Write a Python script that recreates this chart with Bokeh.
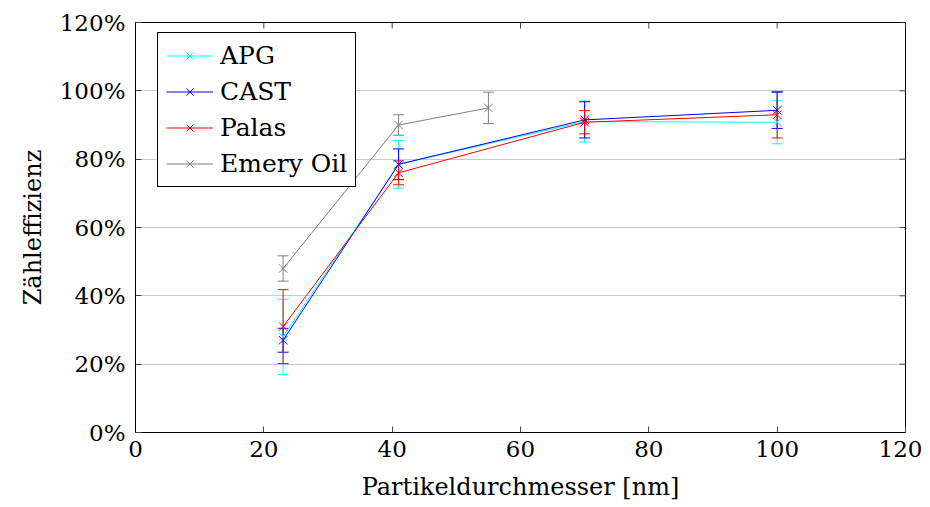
import math
from bokeh.plotting import figure
from bokeh.models import (ColumnDataSource, Whisker, TeeHead, PrintfTickFormatter,
                          FixedTicker, Range1d)
from bokeh.embed import file_html
from bokeh.resources import INLINE

# Data (x in nm, efficiency in %)
x_main = [23, 41, 70, 100]
x_emery = [23, 41, 55]

apg = [28.0, 78.5, 91.0, 90.8]
apg_err = [11.0, 7.0, 6.0, 6.3]

cast = [27.0, 78.5, 91.5, 94.3]
cast_err = [3.5, 4.5, 5.3, 5.3]

palas = [31.0, 76.0, 90.8, 93.0]
palas_err = [10.8, 3.5, 3.4, 6.8]

emery = [48.0, 90.0, 95.0]
emery_err = [3.7, 3.0, 4.6]

x_ticks = [0, 20, 40, 60, 80, 100, 120]
y_ticks = [0, 20, 40, 60, 80, 100, 120]
X_MAX = 120
Y_MAX = 120

series = [
    ("APG", x_main, apg, apg_err, "#00ffff"),
    ("CAST", x_main, cast, cast_err, "#0000ff"),
    ("Palas", x_main, palas, palas_err, "#ff0000"),
    ("Emery Oil", x_emery, emery, emery_err, "#808080"),
]

FONT = "DejaVu Serif"

p = figure(width=922, height=507, output_backend="svg", toolbar_location=None,
           x_range=Range1d(0, X_MAX), y_range=Range1d(0, Y_MAX),
           min_border_left=135, min_border_right=17, min_border_top=22,
           min_border_bottom=75)

p.background_fill_color = "white"
p.border_fill_color = "white"
p.outline_line_color = "black"
p.outline_line_width = 1

p.xgrid.visible = False
p.ygrid.grid_line_color = "#c8c8c8"
p.ygrid.grid_line_width = 1
p.ygrid.ticker = FixedTicker(ticks=y_ticks)

# inner ticks on top and right edges (clipped half-dashes)
p.scatter(x=x_ticks, y=[Y_MAX] * len(x_ticks), marker="dash", size=12,
          angle=math.pi / 2, line_color="#444444", line_width=1)
p.scatter(x=[X_MAX] * len(y_ticks), y=y_ticks, marker="dash", size=12,
          angle=0, line_color="#444444", line_width=1)

for name, xs, ys, errs, col in series:
    src = ColumnDataSource(dict(x=xs, y=ys,
                                lo=[a - b for a, b in zip(ys, errs)],
                                hi=[a + b for a, b in zip(ys, errs)]))
    w = Whisker(base="x", lower="lo", upper="hi", source=src, dimension="height",
                line_color=col, line_width=1,
                upper_head=TeeHead(size=11, line_color=col, line_width=1),
                lower_head=TeeHead(size=11, line_color=col, line_width=1))
    p.add_layout(w)
    p.line("x", "y", source=src, line_color=col, line_width=1, legend_label=name)
    p.scatter("x", "y", source=src, marker="x", size=12, line_color=col,
              line_width=1, legend_label=name)

# axes
for ax in (p.xaxis[0], p.yaxis[0]):
    ax.major_tick_in = 6
    ax.major_tick_out = 0
    ax.minor_tick_in = 0
    ax.minor_tick_out = 0
    ax.axis_line_color = "black"
    ax.major_tick_line_color = "#444444"
    ax.major_label_text_font = FONT
    ax.major_label_text_font_size = "23px"
    ax.major_label_text_color = "black"
    ax.axis_label_text_font = FONT
    ax.axis_label_text_font_size = "24px"
    ax.axis_label_text_font_style = "normal"
    ax.axis_label_text_color = "black"

p.xaxis[0].ticker = FixedTicker(ticks=x_ticks)
p.yaxis[0].ticker = FixedTicker(ticks=y_ticks)
p.yaxis[0].formatter = PrintfTickFormatter(format="%d%%")
p.xaxis[0].axis_label = "Partikeldurchmesser [nm]"
p.yaxis[0].axis_label = "Zähleffizienz"
p.xaxis[0].major_label_standoff = 8
p.yaxis[0].major_label_standoff = 10
p.xaxis[0].axis_label_standoff = 13
p.yaxis[0].axis_label_standoff = 10

lg = p.legend[0]
lg.location = (22, 245)
lg.margin = 0
lg.padding = 8
lg.spacing = 7
lg.border_line_color = "black"
lg.border_line_width = 1
lg.border_line_alpha = 1
lg.background_fill_alpha = 1
lg.label_text_font = FONT
lg.label_text_font_size = "25px"
lg.label_text_color = "black"
lg.glyph_width = 47
lg.glyph_height = 25
lg.label_height = 25
lg.label_standoff = 7

open("out.html", "w").write(file_html(p, INLINE))
